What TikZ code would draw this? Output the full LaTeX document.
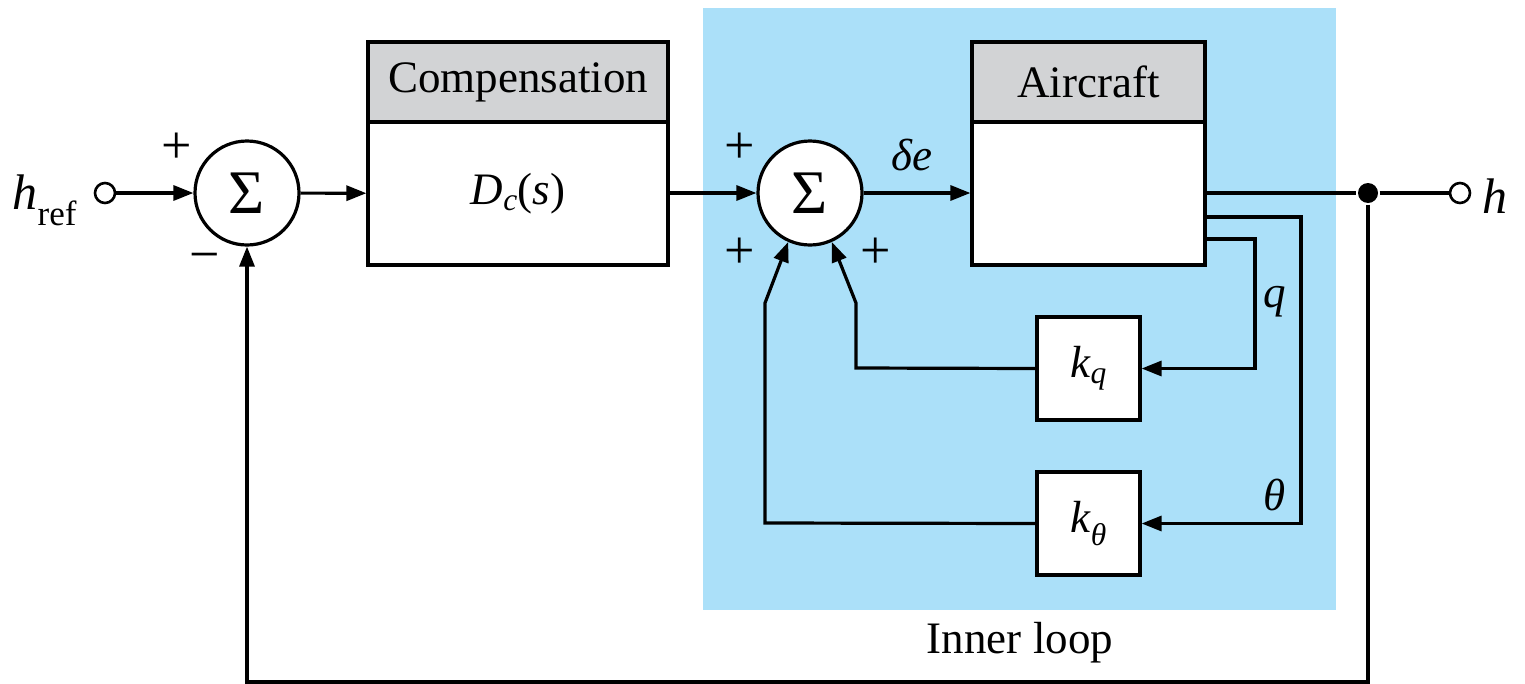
\documentclass[tikz,border=0pt]{standalone}
\usepackage{fontspec}
\setmainfont{Liberation Serif}
\usetikzlibrary{arrows.meta}
\definecolor{loopblue}{RGB}{171,224,249}
\definecolor{headgray}{RGB}{210,211,213}

\begin{document}
\begin{tikzpicture}[x=1pt, y=-1pt, line width=3.2pt,
  txt/.style={font=\fontsize{45}{50}\selectfont},
  box/.style={draw, fill=white, inner sep=0pt, txt},
  head/.style={box, fill=headgray},
  sum/.style={draw, circle, fill=white, minimum size=104pt, inner sep=0pt, font=\fontsize{62}{64}\selectfont},
  port/.style={draw, circle, fill=white, minimum size=20pt, inner sep=0pt, line width=2.6pt},
  junction/.style={circle, fill=black, minimum size=20pt, inner sep=0pt},
  sign/.style={font=\fontsize{54}{56}\selectfont},
  arrow/.style={-{Triangle[length=20pt,width=15pt]}}
]
\useasboundingbox (0,0) rectangle (1525,683);
\fill[loopblue] (703,8) rectangle (1336,610);

\node[txt, anchor=east, font=\fontsize{50}{54}\selectfont] (hreflabel) at (82,200) {\textit{h}\textsubscript{ref}};
\node[port] (href) at (105,193) {};
\node[sum] (sum1) at (247,193) {Σ};
\node[box, minimum width=300pt, minimum height=143pt] (comp) at (518,193.5) {\textit{D}\textsubscript{\textit{c}}(\textit{s})};
\node[head, minimum width=300pt, minimum height=80pt] (comphead) at (518,82) {Compensation};
\node[sum] (sum2) at (810,193) {Σ};
\node[box, minimum width=233pt, minimum height=143pt] (air) at (1088.5,193.5) {};
\node[head, minimum width=233pt, minimum height=80pt] (airhead) at (1088.5,82) {Aircraft};
\node[box, minimum width=103pt, minimum height=103pt] (kq) at (1088.5,368.5) {\textit{k}\textsubscript{\textit{q}}};
\node[box, minimum width=103pt, minimum height=103pt] (kth) at (1088.5,523.5) {\textit{k}\textsubscript{\textit{θ}}};
\node[junction] (dot) at (1368,193) {};
\node[port] (hout) at (1460,193) {};
\node[txt, anchor=west, font=\fontsize{50}{54}\selectfont] (hlabel) at (1478,196) {\textit{h}};
\node[txt] (qlabel) at (1275,302) {\textit{q}};
\node[txt] (thlabel) at (1275,495) {\textit{θ}};
\node[txt] (delabel) at (912,155) {\textit{δe}};

\coordinate (qtap) at (1205,239);
\coordinate (thtap) at (1205,217);

\draw[arrow] (href) -- (sum1);
\draw[arrow] (sum1) -- (comp);
\draw[arrow] (comp.east |- sum2) -- (sum2);
\draw[arrow] (sum2) -- (sum2 -| air.west);
\draw (air.east |- sum2) -- (dot) -- (hout);
\draw[arrow] (qtap) -- (1255,239) |- (kq.east);
\draw[arrow] (thtap) -- (1301,217) |- (kth.east);
\draw[arrow] (kq.west) -- (856,368) -- (856,303) -- (sum2.-66);
\draw[arrow] (kth.west) -- (765,523) -- (765,303) -- (sum2.-114);
\draw[arrow] (dot) -- (1368,682) -| (sum1.south);

\node[sign] (plus1) at (177,148) {+};
\node[sign] (minus1) at (205,263) {−};
\node[sign] (plus2) at (740,148) {+};
\node[sign] (plus3) at (740,253) {+};
\node[sign] (plus4) at (876,253) {+};
\node[txt] (inner) at (1020,643) {Inner loop};
\end{tikzpicture}
\end{document}
